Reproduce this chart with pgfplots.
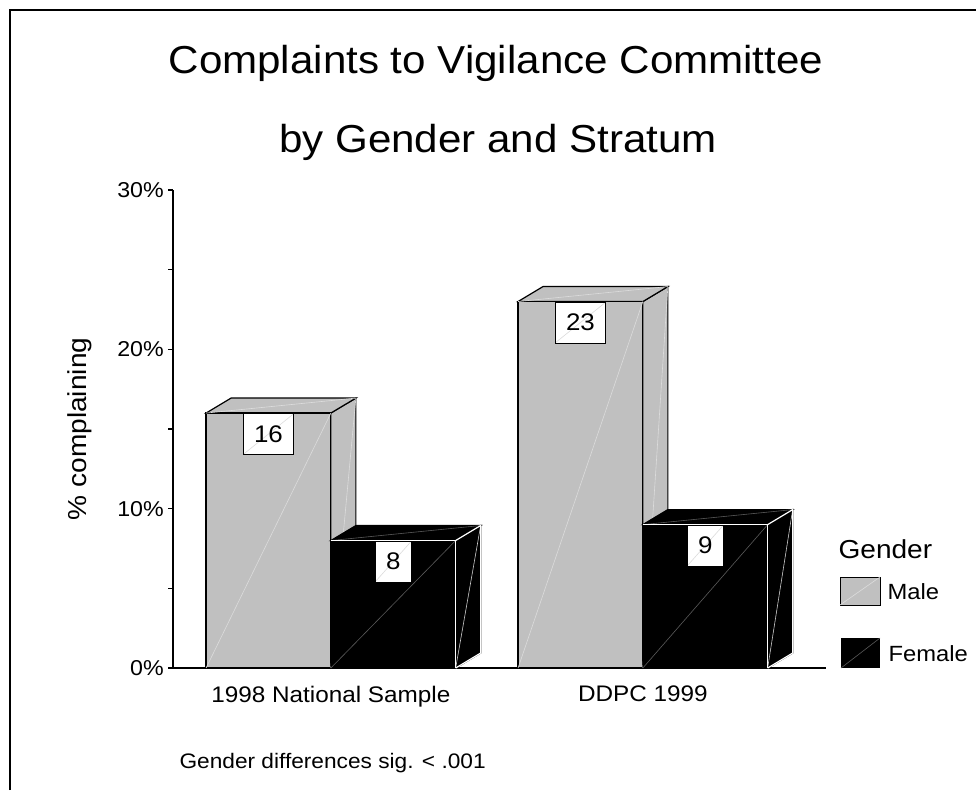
\documentclass[border=0pt]{standalone}
\usepackage{pgfplots}
\pgfplotsset{compat=1.18}
\usepackage{fontspec}
\setmainfont{Liberation Sans}[FakeStretch=1.08]

\definecolor{malegray}{HTML}{C0C0C0}
\definecolor{seamlight}{HTML}{DCDCDC}
\definecolor{seamdark}{HTML}{5A5A5A}

\newcommand\fs[1]{\fontsize{#1}{#1}\selectfont}

% bar geometry in axis units: width, depth offset in x and in y
\def\bw{0.4}
\def\dx{0.0801}
\def\dy{0.94}

\tikzset{
  valbox/.style={draw=black, fill=white, line width=1pt, anchor=north,
    inner xsep=11pt, inner ysep=0pt, minimum height=41pt, font=\fs{24},
    path picture={\draw[seamlight, line width=0.6pt]
      (path picture bounding box.south west) -- (path picture bounding box.north east);}},
}

% one grey box: front, top and side faces, with its value label
\newcommand\malecube[2]{%
  \pgfmathsetmacro\xl{#1}%
  \pgfmathsetmacro\xr{#1+\bw}%
  \pgfmathsetmacro\xlb{#1+\dx}%
  \pgfmathsetmacro\xrb{#1+\bw+\dx}%
  \pgfmathsetmacro\vb{#2+\dy}%
  \pgfmathsetmacro\xc{#1+\bw/2}%
  \edef\doplots{%
    \noexpand\addplot[fill=malegray, draw=black, line width=1.2pt, mark=none]
      coordinates {(\xr,0) (\xr,#2) (\xrb,\vb) (\xrb,\dy)} -- cycle;
    \noexpand\addplot[fill=malegray, draw=black, line width=1.2pt, mark=none]
      coordinates {(\xl,#2) (\xlb,\vb) (\xrb,\vb) (\xr,#2)} -- cycle;
    \noexpand\addplot[fill=malegray, draw=black, line width=1.2pt, mark=none]
      coordinates {(\xl,0) (\xl,#2) (\xr,#2) (\xr,0)} -- cycle;
    \noexpand\addplot[seamlight, line width=0.6pt, mark=none]
      coordinates {(\xl,0) (\xr,#2)};
    \noexpand\addplot[seamlight, line width=0.6pt, mark=none]
      coordinates {(\xl,#2) (\xrb,\vb)};
    \noexpand\addplot[seamlight, line width=0.6pt, mark=none]
      coordinates {(\xrb,\vb) (\xr,0)};
    \noexpand\node[valbox] at (axis cs:\xc,#2) {#2};
  }\doplots
}

% one black box with white front edges
\newcommand\femalecube[2]{%
  \pgfmathsetmacro\xl{#1}%
  \pgfmathsetmacro\xr{#1+\bw}%
  \pgfmathsetmacro\xlb{#1+\dx}%
  \pgfmathsetmacro\xrb{#1+\bw+\dx}%
  \pgfmathsetmacro\vb{#2+\dy}%
  \pgfmathsetmacro\xc{#1+\bw/2}%
  \edef\doplots{%
    \noexpand\addplot[fill=black, draw=black, line width=1.2pt, mark=none]
      coordinates {(\xr,0) (\xr,#2) (\xrb,\vb) (\xrb,\dy)} -- cycle;
    \noexpand\addplot[fill=black, draw=black, line width=1.2pt, mark=none]
      coordinates {(\xl,#2) (\xlb,\vb) (\xrb,\vb) (\xr,#2)} -- cycle;
    \noexpand\addplot[fill=black, draw=none, mark=none]
      coordinates {(\xl,0) (\xl,#2) (\xr,#2) (\xr,0)} -- cycle;
    \noexpand\addplot[seamdark, line width=0.6pt, mark=none]
      coordinates {(\xl,0) (\xr,#2)};
    \noexpand\addplot[seamdark, line width=0.6pt, mark=none]
      coordinates {(\xl,#2) (\xrb,\vb)};
    \noexpand\addplot[white!80!black, line width=0.6pt, mark=none]
      coordinates {(\xrb,\vb) (\xr,0)};
    \noexpand\addplot[white, line width=1.2pt, mark=none]
      coordinates {(\xl,#2) (\xr,#2) (\xr,0)};
    \noexpand\addplot[white, line width=1.2pt, mark=none]
      coordinates {(\xr,#2) (\xrb,\vb) (\xrb,\dy) (\xr,0)};
    \noexpand\node[valbox] at (axis cs:\xc,#2) {#2};
  }\doplots
}

\begin{document}
\begin{tikzpicture}[x=1pt,y=1pt]
\path[use as bounding box] (0,0) rectangle (976,790);
% outer frame (top and left sides)
\draw[line width=1.4pt] (10,0) -- (10,780) -- (976,780);

% titles
\node[anchor=base, font=\fs{39}] at (496,716) {Complaints to Vigilance Committee};
\node[anchor=base, font=\fs{39}] at (498,637) {by Gender and Stratum};

\begin{axis}[
  at={(173pt,122pt)}, anchor=south west,
  scale only axis, width=653pt, height=478pt,
  xmin=-0.506, xmax=1.587, ymin=0, ymax=30,
  clip=false,
  axis x line=bottom, axis y line=left,
  axis line style={-, line width=1.4pt},
  /pgf/number format/assume math mode=true,
  ytick={0,10,20,30}, minor ytick={5,15,25},
  yticklabel={\pgfmathprintnumber{\tick}\%},
  tick align=outside, major tick length=5pt, minor tick length=5pt,
  every tick/.style={black, line width=1.2pt},
  yticklabel style={font=\fs{21.5}, inner sep=0pt, xshift=-4pt},
  xtick={0,1}, xticklabels={1998 National Sample, DDPC 1999},
  x tick style={draw=none},
  xticklabel style={font=\fs{22.5}, inner sep=0pt, yshift=-13pt},
  ylabel={\% complaining},
  ylabel style={font=\fs{26}, at={(axis description cs:-0.142,0.5)}, anchor=center},
]
% 1998 National Sample
\malecube{-0.4}{16}
\femalecube{0}{8}
% DDPC 1999
\malecube{0.6}{23}
\femalecube{1.0}{9}
\end{axis}

% legend
\node[anchor=base west, font=\fs{26}] at (835,232) {Gender};
\filldraw[fill=malegray, draw=black, line width=1pt] (840,185) rectangle (880,213);
\draw[seamlight, line width=0.6pt] (840,185) -- (880,213);
\node[anchor=base west, font=\fs{22}] at (884,191) {Male};
\fill[black] (841,122) rectangle (880,152);
\draw[seamdark, line width=0.6pt] (841,122) -- (880,152);
\node[anchor=base west, font=\fs{22}] at (885,129) {Female};

% footnote
\node[anchor=base west, font=\fs{21}] at (176,22) {Gender differences sig. < .001};
\end{tikzpicture}
\end{document}
